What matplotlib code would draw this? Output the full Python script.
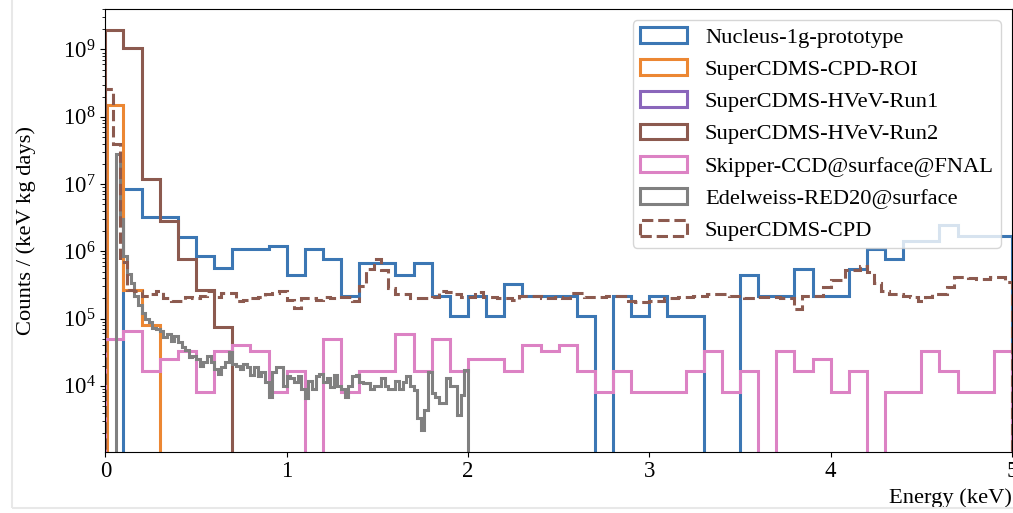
import numpy as np
import matplotlib
matplotlib.use('Agg')
import matplotlib.pyplot as plt
from matplotlib.patches import Rectangle

# spectra, counts / (keV kg days)
labels = ['Nucleus-1g-prototype', 'SuperCDMS-CPD-ROI', 'SuperCDMS-HVeV-Run1',
          'SuperCDMS-HVeV-Run2', 'Skipper-CCD@surface@FNAL',
          'Edelweiss-RED20@surface', 'SuperCDMS-CPD']

# Nucleus, 0.1 keV bins from 0.1 to 5.0
nucleus_edges = np.linspace(0.1, 5.0, 50)
nucleus = [8.3e6, 3.2e6, 3.2e6, 1.65e6, 8.5e5, 5.6e5, 1.1e6, 1.1e6, 1.2e6, 4.4e5,
           1.1e6, 7.7e5, 2.2e5, 6.6e5, 6.6e5, 4.4e5, 6.6e5, 2.2e5, 1.1e5, 2.2e5,
           1.1e5, 3.3e5, 2.2e5, 2.2e5, 2.2e5, 1.1e5, 0, 2.2e5, 1.1e5, 2.2e5,
           1.1e5, 1.1e5, 0, 0, 4.4e5, 2.2e5, 2.2e5, 5.5e5, 2.2e5, 2.2e5,
           5.5e5, 1.1e6, 7.7e5, 1.43e6, 1.4e6, 2.5e6, 1.7e6, 1.7e6, 1.7e6]

# SuperCDMS CPD ROI
cpd_roi_edges = [0.01, 0.1, 0.2, 0.3]
cpd_roi = [1.5e8, 2.7e5, 7.9e4]

# SuperCDMS HVeV Run1 (nothing in the plotted range)
hvev1_edges = [0.0, 0.1]
hvev1 = []

# SuperCDMS HVeV Run2
hvev2_edges = [0.0, 0.1, 0.2, 0.3, 0.4, 0.5, 0.6, 0.7]
hvev2 = [1.95e9, 1.05e9, 1.2e7, 2.8e6, 7.8e5, 2.7e5, 7.5e4]

# Skipper CCD, 0.1 keV bins from 0 to 5
skipper_edges = np.linspace(0.0, 5.0, 51)
skipper = [4.9e4, 6.6e4, 1.65e4, 2.5e4, 3.3e4, 8.2e3, 3.3e4, 4.1e4, 3.3e4, 8.2e3,
           1.65e4, 0, 4.9e4, 8.2e3, 1.65e4, 1.65e4, 5.8e4, 1.65e4, 4.9e4, 1.65e4,
           2.5e4, 2.5e4, 1.65e4, 4.1e4, 3.3e4, 4.1e4, 1.65e4, 8.2e3, 1.65e4, 8.2e3,
           8.2e3, 8.2e3, 1.65e4, 3.3e4, 8.2e3, 1.65e4, 0, 3.3e4, 1.65e4, 2.5e4,
           8.2e3, 1.65e4, 0, 8.2e3, 8.2e3, 3.3e4, 1.65e4, 8.2e3, 8.2e3, 3.3e4]

# Edelweiss RED20, 0.02 keV bins from 0.06 to 2.0
edelweiss_edges = np.linspace(0.06, 2.0, 98)
edelweiss = [2.8e7, 3.0e6, 8.5e5, 4.6e5, 3.4e5, 2.2e5, 1.6e5, 1.2e5, 1.0e5, 8.8e4,
             7.2e4, 7.0e4, 6.6e4, 5.3e4, 5.9e4, 4.7e4, 5.6e4, 4.5e4, 3.8e4, 3.4e4,
             2.7e4, 2.8e4, 2.5e4, 2.0e4, 2.3e4, 2.8e4, 2.3e4, 1.8e4, 1.5e4, 1.9e4,
             2.3e4, 3.2e4, 2.1e4, 2.0e4, 1.8e4, 2.1e4, 1.9e4, 1.45e4, 1.9e4, 1.4e4,
             1.6e4, 1.15e4, 6.9e3, 1.6e4, 1.9e4, 1.9e4, 1.0e4, 1.4e4, 1.3e4, 1.15e4,
             1.4e4, 9.0e3, 6.6e3, 1.2e4, 9.0e3, 1.4e4, 1.5e4, 1.15e4, 1.3e4, 9.7e3,
             1.45e4, 1.0e4, 9.0e3, 6.9e3, 1.0e4, 1.4e4, 1.45e4, 1.15e4, 1.1e4, 1.1e4,
             9.0e3, 1.0e4, 1.0e4, 1.3e4, 1.0e4, 9.0e3, 9.0e3, 1.2e4, 9.0e3, 1.15e4,
             1.4e4, 1.0e4, 8.7e3, 3.3e3, 2.2e3, 4.4e3, 1.6e4, 7.8e3, 6.9e3, 5.5e3,
             5.5e3, 1.3e4, 1.0e4, 1.0e4, 3.7e3, 7.2e3, 1.7e4]

# SuperCDMS CPD, 0.04 keV bins from 0 to 5
cpd_edges = np.linspace(0.0, 5.0, 126)
cpd = [2.6e8, 4.0e7, 7.0e5, 2.7e5, 2.6e5, 2.2e5, 2.3e5, 2.6e5, 2.0e5, 1.8e5,
       1.8e5, 2.1e5, 2.0e5, 2.2e5, 2.6e5, 2.1e5, 2.4e5, 2.4e5, 1.8e5, 1.9e5,
       2.0e5, 2.1e5, 2.3e5, 2.4e5, 2.6e5, 1.9e5, 1.45e5, 2.0e5, 2.0e5, 1.9e5,
       2.1e5, 2.0e5, 2.1e5, 2.1e5, 1.8e5, 3.0e5, 5.4e5, 7.6e5, 5.2e5, 2.8e5,
       2.3e5, 2.3e5, 2.0e5, 2.0e5, 2.0e5, 2.1e5, 2.6e5, 2.5e5, 2.3e5, 2.1e5,
       2.1e5, 2.5e5, 2.1e5, 2.1e5, 2.0e5, 2.0e5, 1.9e5, 2.2e5, 2.2e5, 2.2e5,
       2.0e5, 2.0e5, 2.1e5, 2.0e5, 2.4e5, 2.4e5, 2.1e5, 2.1e5, 2.1e5, 2.2e5,
       2.2e5, 2.2e5, 1.8e5, 1.75e5, 1.75e5, 1.8e5, 1.8e5, 2.0e5, 2.0e5, 2.1e5,
       2.1e5, 2.2e5, 2.2e5, 2.3e5, 2.3e5, 2.3e5, 2.2e5, 2.2e5, 2.0e5, 2.0e5,
       2.1e5, 2.1e5, 2.1e5, 2.0e5, 2.0e5, 1.4e5, 2.2e5, 2.2e5, 2.2e5, 2.9e5,
       3.8e5, 3.8e5, 5.3e5, 5.3e5, 6.0e5, 5.0e5, 3.4e5, 2.6e5, 2.3e5, 2.3e5,
       2.2e5, 2.1e5, 1.8e5, 2.1e5, 2.3e5, 2.3e5, 2.9e5, 4.1e5, 4.1e5, 4.0e5,
       3.9e5, 3.9e5, 4.1e5, 4.1e5, 3.5e5]

series = [(nucleus_edges, nucleus, '#3c77b4', '-'),
          (cpd_roi_edges, cpd_roi, '#ec8733', '-'),
          (hvev1_edges, hvev1, '#8a66bb', '-'),
          (hvev2_edges, hvev2, '#8c5a4f', '-'),
          (skipper_edges, skipper, '#dc82c4', '-'),
          (edelweiss_edges, edelweiss, '#808080', '-'),
          (cpd_edges, cpd, '#8c5a4f', '--')]

plt.rcParams['font.family'] = ['Liberation Serif', 'DejaVu Serif']
plt.rcParams['mathtext.fontset'] = 'custom'
plt.rcParams['mathtext.rm'] = 'Liberation Serif'

fig = plt.figure(figsize=(10.13, 5.13), dpi=100)
ax = fig.add_axes([0.104, 0.1195, 0.895, 0.863])

for (edges, vals, col, ls), lab in zip(series, labels):
    edges = np.asarray(edges, dtype=float)
    if len(vals):
        centers = 0.5 * (edges[:-1] + edges[1:])
        ax.hist(centers, bins=edges, weights=vals, histtype='step', color=col,
                linestyle=ls, lw=2.2, label=lab)
    else:
        ax.hist([], bins=edges, histtype='step', color=col, lw=2.2, label=lab)

ax.set_yscale('log')
ax.set_xlim(0, 5)
ax.set_ylim(1.05e3, 4e9)
ax.tick_params(labelsize=16.5)
ax.set_ylabel('Counts / (keV kg days)', fontsize=16.2, labelpad=19)
ax.set_xlabel('Energy (keV)', fontsize=16.2, loc='right', labelpad=4)
ax.legend(loc='upper right', fontsize=16.2, handlelength=2.1, labelspacing=0.51,
          borderpad=0.3, borderaxespad=0.5)

# faint frame of the original screenshot
fig.patches.append(Rectangle((12 / 1013, 5 / 513), 1.2, 1.2, transform=fig.transFigure,
                             fill=False, edgecolor='#e8e8e8', lw=1.5))

fig.savefig('out.png', dpi=100)
